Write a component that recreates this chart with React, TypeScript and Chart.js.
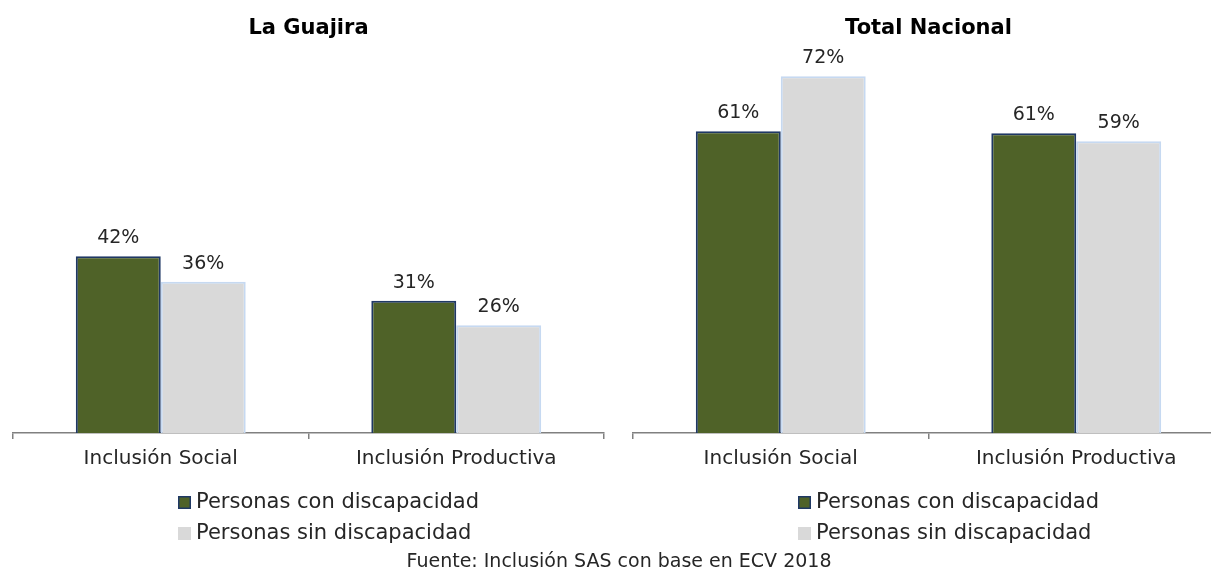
import React, { useEffect, useRef } from "react";
import { Chart, registerables } from "chart.js";

Chart.register(...registerables);

// ---- data ----
const categories = ["Inclusión Social", "Inclusión Productiva"];
const seriesNames = ["Personas con discapacidad", "Personas sin discapacidad"];
const guajiraCon = [42.0, 31.4];
const guajiraSin = [35.9, 25.6];
const nacionalCon = [61.0, 60.6];
const nacionalSin = [72.1, 59.0];
const titles = ["La Guajira", "Total Nacional"];
const scaleMax = [88.6, 75.4];
const footerText = "Fuente: Inclusión SAS con base en ECV 2018";

// ---- styles ----
const FONT = "'DejaVu Sans', sans-serif";
const GREEN = "#4F6228";
const GREEN_BORDER = "#1F3864";
const GRAY = "#D9D9D9";
const GRAY_BORDER = "#C6D9F1";
const TEXT = "#262626";

const valueLabels = {
  id: "valueLabels",
  afterDatasetsDraw(chart: any) {
    const ctx = chart.ctx;
    ctx.save();
    ctx.font = `19px ${FONT}`;
    ctx.fillStyle = TEXT;
    ctx.textAlign = "center";
    ctx.textBaseline = "alphabetic";
    chart.data.datasets.forEach((ds: any, i: number) => {
      const meta = chart.getDatasetMeta(i);
      meta.data.forEach((el: any, j: number) => {
        const v = ds.data[j] as number;
        ctx.fillText(Math.round(v) + "%", el.x, el.y - 13);
      });
    });
    ctx.restore();
  },
};

const boxLegend = {
  id: "boxLegend",
  afterDraw(chart: any) {
    const ctx = chart.ctx;
    const { left, bottom } = chart.chartArea;
    const x = left + 165;
    ctx.save();
    chart.data.datasets.forEach((ds: any, i: number) => {
      const cy = bottom + 69.5 + i * 31;
      ctx.fillStyle = ds.backgroundColor;
      ctx.fillRect(x, cy - 6.5, 13, 13);
      if (i === 0) {
        ctx.strokeStyle = ds.borderColor;
        ctx.lineWidth = 1.5;
        ctx.strokeRect(x + 0.75, cy - 5.75, 11.5, 11.5);
      }
      ctx.fillStyle = TEXT;
      ctx.font = `21px ${FONT}`;
      ctx.textAlign = "left";
      ctx.textBaseline = "middle";
      ctx.fillText(ds.label, x + 18, cy);
    });
    ctx.restore();
  },
};

function makeConfig(title: string, con: number[], sin: number[], max: number): any {
  return {
    type: "bar",
    data: {
      labels: categories,
      datasets: [
        {
          label: seriesNames[0],
          data: con,
          backgroundColor: GREEN,
          borderColor: GREEN_BORDER,
          borderWidth: 2,
        },
        {
          label: seriesNames[1],
          data: sin,
          backgroundColor: GRAY,
          borderColor: GRAY_BORDER,
          borderWidth: 2,
        },
      ],
    },
    options: {
      responsive: false,
      animation: false,
      events: [],
      datasets: {
        bar: { categoryPercentage: 0.575, barPercentage: 1 },
      },
      layout: { padding: { left: 13, right: 16, top: 0, bottom: 92 } },
      plugins: {
        legend: { display: false },
        tooltip: { enabled: false },
        title: {
          display: true,
          text: title,
          color: "#000000",
          font: { family: FONT, size: 21, weight: "bold", lineHeight: 1.2 },
          padding: { top: 16, bottom: 18.8 },
        },
      },
      scales: {
        x: {
          offset: true,
          grid: {
            display: true,
            drawOnChartArea: false,
            drawTicks: true,
            tickLength: 6,
            color: "#808080",
            lineWidth: 1.5,
            offset: true,
          },
          border: { display: true, color: "#808080", width: 1.5 },
          ticks: {
            color: TEXT,
            font: { family: FONT, size: 20, lineHeight: 1.2 },
            padding: 8,
            maxRotation: 0,
            autoSkip: false,
          },
        },
        y: {
          display: false,
          min: 0,
          max: max,
        },
      },
    },
    plugins: [valueLabels, boxLegend],
  };
}

function BarPanel(props: { idx: number; con: number[]; sin: number[]; left: number }) {
  const ref = useRef<HTMLCanvasElement | null>(null);
  useEffect(() => {
    if (!ref.current) return;
    const chart = new Chart(
      ref.current,
      makeConfig(titles[props.idx], props.con, props.sin, scaleMax[props.idx])
    );
    return () => chart.destroy();
  }, []);
  return (
    <canvas
      ref={ref}
      width={620}
      height={571}
      style={{ position: "absolute", left: props.left, top: 0, width: 620, height: 571 }}
    />
  );
}

export default function App() {
  return (
    <div
      style={{
        position: "absolute",
        left: 0,
        top: 0,
        width: 1211,
        height: 571,
        overflow: "hidden",
        background: "#ffffff",
      }}
    >
      <BarPanel idx={0} con={guajiraCon} sin={guajiraSin} left={0} />
      <BarPanel idx={1} con={nacionalCon} sin={nacionalSin} left={620} />
      <div
        style={{
          position: "absolute",
          left: 0,
          top: 548,
          width: 1238,
          textAlign: "center",
          fontFamily: FONT,
          fontSize: 19,
          lineHeight: "24px",
          color: TEXT,
          whiteSpace: "nowrap",
        }}
      >
        {footerText}
      </div>
    </div>
  );
}
